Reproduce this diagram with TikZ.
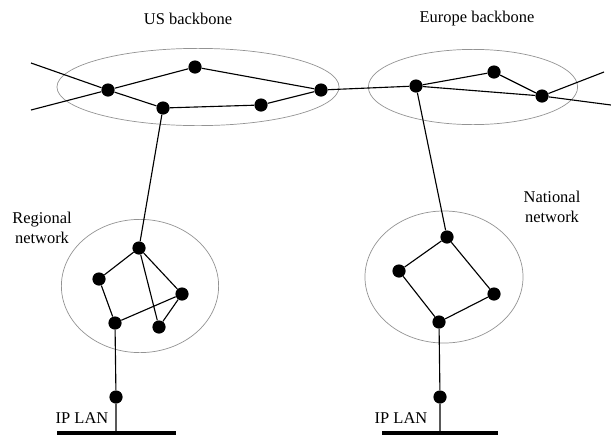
\documentclass[tikz,border=0pt]{standalone}
\usepackage{fontspec}
\setmainfont{Liberation Serif}
\usetikzlibrary{shapes.geometric,positioning}
\tikzstyle{router} = [circle, fill=black, inner sep=0pt, minimum size=0.33cm]
\tikzstyle{link}   = [line width=0.8pt]
\tikzstyle{lan}    = [line width=3pt]
\tikzstyle{netarea}= [ellipse, draw=gray!85, line width=0.5pt, inner sep=0pt]
\tikzstyle{caption}= [font=\fontsize{11.7}{14}\selectfont, align=center, inner sep=1pt]
\tikzstyle{US_AREA}  = [netarea, minimum width=7.05cm, minimum height=1.93cm]
\tikzstyle{EU_AREA}  = [netarea, minimum width=5.23cm, minimum height=1.88cm]
\tikzstyle{REG_AREA} = [netarea, minimum width=3.93cm, minimum height=3.33cm]
\tikzstyle{NAT_AREA} = [netarea, minimum width=3.95cm, minimum height=3.30cm]

\begin{document}
\begin{tikzpicture}[x=0.025cm, y=-0.025cm]
      \useasboundingbox (0,0) rectangle (611,435);

      %%%%%%%%%%%%%%%%%%%%%%%%%%%%%%%%%%%%%%%%%%%%%%%%%
      % AREAS
      %%%%%%%%%%%%%%%%%%%%%%%%%%%%%%%%%%%%%%%%%%%%%%%%%
      \node[US_AREA]  (US)  at (198,87)  {};
      \node[EU_AREA]  (EU)  at (473,87)  {};
      \node[REG_AREA] (REG) at (140,286) {};
      \node[NAT_AREA] (NAT) at (444,277) {};

      \node[caption] (USL)  at (188,19)  {US backbone};
      \node[caption] (EUL)  at (477,19)  {Europe backbone};
      \node[caption] (REGL) at (42,228)  {Regional\\network};
      \node[caption] (NATL) at (552,207) {National\\network};

      %%%%%%%%%%%%%%%%%%%%%%%%%%%%%%%%%%%%%%%%%%%%%%%%%
      % BACKBONE ROUTERS
      %%%%%%%%%%%%%%%%%%%%%%%%%%%%%%%%%%%%%%%%%%%%%%%%%
      \node[router] (A) at (108,90)  {};
      \node[router] (B) at (195,67)  {};
      \node[router] (C) at (163,108) {};
      \node[router] (D) at (261,105) {};
      \node[router] (E) at (321,90)  {};
      \node[router] (F) at (416,86)  {};
      \node[router] (G) at (494,72)  {};
      \node[router] (H) at (542,96)  {};
      \coordinate (W1) at (31,63);
      \coordinate (W2) at (31,110);
      \coordinate (O1) at (604,72);
      \coordinate (O2) at (611,105);

      \draw[link] (W1) -- (A) -- (C) -- (D) -- (E);
      \draw[link] (W2) -- (A) -- (B) -- (E);
      \draw[link] (E) -- (F) -- (G) -- (H) -- (O1);
      \draw[link] (F) -- (H) -- (O2);

      %%%%%%%%%%%%%%%%%%%%%%%%%%%%%%%%%%%%%%%%%%%%%%%%%
      % REGIONAL + NATIONAL NETWORKS
      %%%%%%%%%%%%%%%%%%%%%%%%%%%%%%%%%%%%%%%%%%%%%%%%%
      \node[router] (R1) at (139,248) {};
      \node[router] (R2) at (99,279)  {};
      \node[router] (R3) at (182,294) {};
      \node[router] (R4) at (115,323) {};
      \node[router] (R5) at (159,327) {};
      \draw[link] (C) -- (R1);
      \draw[link] (R1) -- (R2) -- (R4) -- (R3) -- (R1) -- (R5) -- (R3);

      \node[router] (N1) at (447,237) {};
      \node[router] (N2) at (399,271) {};
      \node[router] (N3) at (494,294) {};
      \node[router] (N4) at (439,322) {};
      \draw[link] (F) -- (N1);
      \draw[link] (N1) -- (N2) -- (N4) -- (N3) -- (N1);

      %%%%%%%%%%%%%%%%%%%%%%%%%%%%%%%%%%%%%%%%%%%%%%%%%
      % IP LANS
      %%%%%%%%%%%%%%%%%%%%%%%%%%%%%%%%%%%%%%%%%%%%%%%%%
      \node[router] (R6) at (116,397) {};
      \node[router] (N5) at (440,397) {};
      \coordinate (LAN1W) at (57,433);
      \coordinate (LAN1E) at (176,433);
      \coordinate (LAN2W) at (382,433);
      \coordinate (LAN2E) at (498,433);
      \draw[lan] (LAN1W) -- (LAN1E);
      \draw[lan] (LAN2W) -- (LAN2E);
      \draw[link] (R4) -- (R6) -- (R6 |- LAN1W);
      \draw[link] (N4) -- (N5) -- (N5 |- LAN2W);

      \node[caption] (LAN1) at (82,418)  {IP LAN};
      \node[caption] (LAN2) at (401,418) {IP LAN};
\end{tikzpicture}
\end{document}
